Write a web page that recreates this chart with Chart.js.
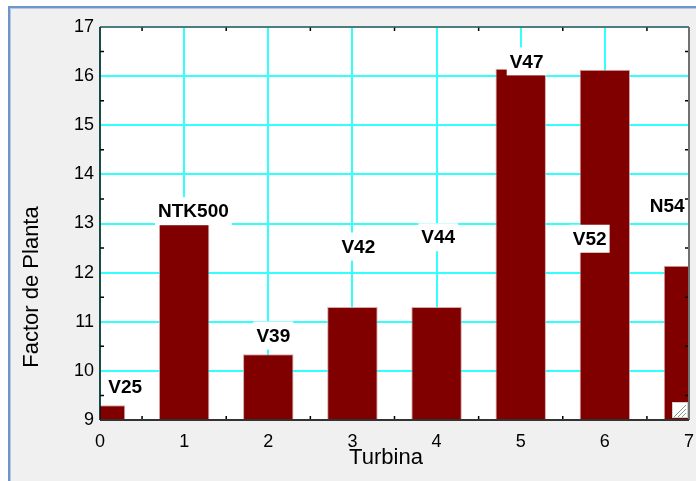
<!DOCTYPE html>
<html>
<head>
<meta charset="utf-8">
<script src="https://cdn.jsdelivr.net/npm/chart.js@4.4.1/dist/chart.umd.min.js"></script>
<style>
  html, body { margin: 0; padding: 0; background: #ffffff; }
  #chart { display: block; }
</style>
</head>
<body>
<canvas id="chart" width="696" height="481"></canvas>
<script>
// posizioni delle turbine sull'asse x e fattore di planta
const turbinaPos = [0, 1, 2, 3, 4, 5, 6, 7];
const fattorePlanta = [9.3, 13.0, 10.34, 11.3, 11.3, 16.15, 16.13, 12.14];

// etichette di testo con la loro posizione (in unita' dei dati)
const nomiTurbine = ['V25', 'NTK500', 'V39', 'V42', 'V44', 'V47', 'V52', 'N54'];
const etichettaX = [0.30, 1.11, 2.06, 3.07, 4.02, 5.07, 5.82, 6.74];
const etichettaY = [9.67, 13.25, 10.72, 12.53, 12.72, 16.30, 12.69, 13.36];

// tick degli assi
const xMin = 0, xMax = 7;
const yMin = 9, yMax = 17;

const FONT = '"Liberation Sans", Arial, sans-serif';
const CIANO = '#33ffff';

// Plugin per la cornice della finestra, le etichette e i dettagli degli assi
const decorazioni = {
    id: 'decorazioni',
    beforeDraw(chart) {
        const ctx = chart.ctx;
        const a = chart.chartArea;
        ctx.save();
        // sfondo finestra
        ctx.fillStyle = '#ffffff';
        ctx.fillRect(0, 0, chart.width, chart.height);
        ctx.fillStyle = '#f0f0f0';
        ctx.fillRect(9, 7, chart.width - 9, chart.height - 7);
        // bordo blu della finestra
        ctx.strokeStyle = '#6f94c9';
        ctx.lineWidth = 2;
        ctx.beginPath();
        ctx.moveTo(9, chart.height);
        ctx.lineTo(9, 7);
        ctx.lineTo(chart.width, 7);
        ctx.stroke();
        ctx.strokeStyle = '#b4c8e6';
        ctx.lineWidth = 1;
        ctx.beginPath();
        ctx.moveTo(10.5, chart.height);
        ctx.lineTo(10.5, 8.5);
        ctx.lineTo(chart.width, 8.5);
        ctx.stroke();
        // area del grafico bianca
        ctx.fillStyle = '#ffffff';
        ctx.fillRect(a.left, a.top, a.right - a.left, a.bottom - a.top);
        ctx.restore();
    },
    afterDatasetsDraw(chart) {
        const ctx = chart.ctx;
        const sx = chart.scales.x, sy = chart.scales.y;
        ctx.save();
        ctx.font = 'bold 19px ' + FONT;
        ctx.textAlign = 'center';
        ctx.textBaseline = 'middle';
        nomiTurbine.forEach((nome, i) => {
            const px = sx.getPixelForValue(etichettaX[i]);
            const py = sy.getPixelForValue(etichettaY[i]);
            const w = ctx.measureText(nome).width;
            ctx.fillStyle = '#ffffff';
            ctx.fillRect(px - w / 2 - 3, py - 14, w + 6, 28);
            ctx.fillStyle = '#000000';
            ctx.fillText(nome, px, py + 1);
        });
        ctx.restore();
    },
    afterDraw(chart) {
        const ctx = chart.ctx;
        const a = chart.chartArea;
        const sx = chart.scales.x, sy = chart.scales.y;
        ctx.save();

        // piccola maniglia di ridimensionamento in basso a destra
        ctx.fillStyle = '#ffffff';
        ctx.fillRect(a.right - 16, a.bottom - 17, 15, 15);
        ctx.strokeStyle = '#d0d0d0';
        ctx.lineWidth = 1;
        ctx.strokeRect(a.right - 16.5, a.bottom - 17.5, 15, 15);
        ctx.strokeStyle = '#909090';
        for (let k = 0; k < 3; k++) {
            const o = 4 + k * 4;
            ctx.beginPath();
            ctx.moveTo(a.right - 3, a.bottom - 3 - o);
            ctx.lineTo(a.right - 3 - o, a.bottom - 3);
            ctx.stroke();
        }

        // tacche a meta' intervallo, verso l'interno
        ctx.strokeStyle = '#000000';
        ctx.lineWidth = 1.5;
        for (let v = xMin + 0.5; v < xMax; v += 1) {
            const p = sx.getPixelForValue(v);
            ctx.beginPath();
            ctx.moveTo(p, a.top); ctx.lineTo(p, a.top + 4);
            ctx.moveTo(p, a.bottom); ctx.lineTo(p, a.bottom - 4);
            ctx.stroke();
        }
        for (let v = yMin + 0.5; v < yMax; v += 1) {
            const p = sy.getPixelForValue(v);
            ctx.beginPath();
            ctx.moveTo(a.left, p); ctx.lineTo(a.left + 4, p);
            ctx.moveTo(a.right, p); ctx.lineTo(a.right - 4, p);
            ctx.stroke();
        }

        // cornice
        ctx.lineWidth = 1.5;
        ctx.strokeStyle = '#555555';
        ctx.beginPath();
        ctx.moveTo(a.left, a.top); ctx.lineTo(a.right, a.top);
        ctx.stroke();
        ctx.lineWidth = 2;
        ctx.strokeStyle = '#707070';
        ctx.beginPath();
        ctx.moveTo(a.right, a.top); ctx.lineTo(a.right, a.bottom);
        ctx.stroke();
        ctx.strokeStyle = '#333333';
        ctx.beginPath();
        ctx.moveTo(a.right, a.bottom); ctx.lineTo(a.left, a.bottom);
        ctx.stroke();
        ctx.lineWidth = 1.5;
        ctx.strokeStyle = '#111111';
        ctx.beginPath();
        ctx.moveTo(a.left, a.bottom); ctx.lineTo(a.left, a.top);
        ctx.stroke();

        // titoli degli assi
        ctx.fillStyle = '#000000';
        ctx.font = '22px ' + FONT;
        ctx.textAlign = 'center';
        ctx.textBaseline = 'middle';
        ctx.fillText('Turbina', 386, 458);
        ctx.translate(32, 287);
        ctx.rotate(-Math.PI / 2);
        ctx.fillText('Factor de Planta', 0, 0);
        ctx.restore();
    }
};

const ctx = document.getElementById('chart').getContext('2d');
new Chart(ctx, {
    type: 'bar',
    data: {
        datasets: [{
            data: turbinaPos.map((x, i) => ({ x: x, y: fattorePlanta[i] })),
            backgroundColor: '#800000',
            borderColor: '#d8a8a8',
            borderWidth: 1,
            categoryPercentage: 1,
            barPercentage: 0.6
        }]
    },
    options: {
        responsive: false,
        animation: false,
        events: [],
        layout: { padding: { left: 66, top: 27, right: 7, bottom: 31 } },
        plugins: {
            legend: { display: false },
            tooltip: { enabled: false }
        },
        scales: {
            x: {
                type: 'linear',
                min: xMin,
                max: xMax,
                offset: false,
                border: { display: false },
                grid: {
                    offset: false,
                    drawTicks: false,
                    color: CIANO,
                    lineWidth: 2
                },
                ticks: {
                    stepSize: 1,
                    padding: 11,
                    color: '#000000',
                    font: { family: FONT, size: 18 },
                    maxRotation: 0
                },
                afterFit(scale) {
                    scale.height = 30;
                    scale.paddingLeft = 0;
                    scale.paddingRight = 0;
                }
            },
            y: {
                min: yMin,
                max: yMax,
                border: { display: false },
                grid: {
                    drawTicks: false,
                    color: CIANO,
                    lineWidth: 2
                },
                ticks: {
                    stepSize: 1,
                    padding: 6,
                    color: '#000000',
                    font: { family: FONT, size: 18 }
                },
                afterFit(scale) {
                    scale.width = 34;
                    scale.paddingTop = 0;
                    scale.paddingBottom = 0;
                }
            }
        }
    },
    plugins: [decorazioni]
});
</script>
</body>
</html>
